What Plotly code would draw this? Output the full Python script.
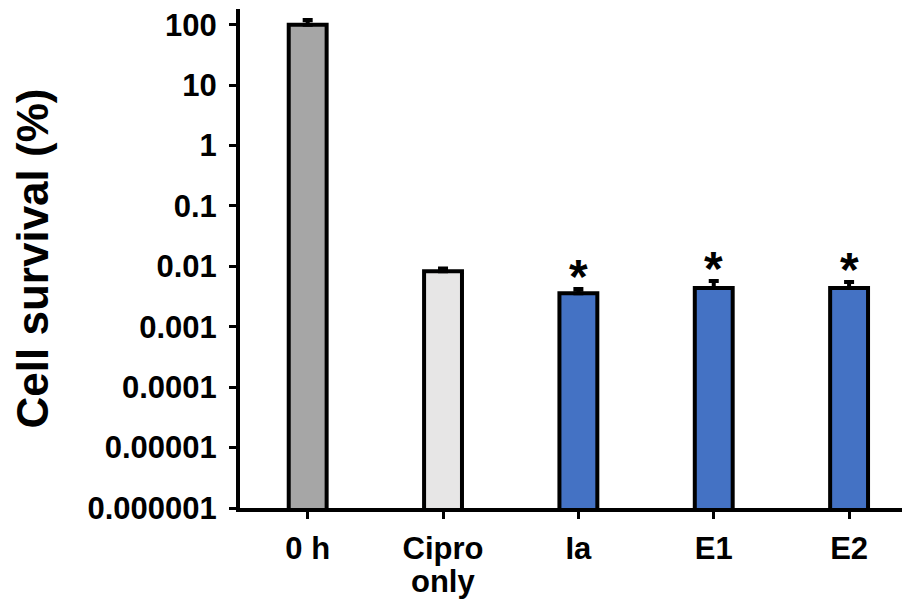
import plotly.graph_objects as go
import math

categories = ["0 h", "Cipro\nonly", "Ia", "E1", "E2"]
values = [100, 0.0083, 0.0036, 0.0044, 0.0044]
errors = [20, 0.0009, 0.0006, 0.0013, 0.0011]
colors = ["#A6A6A6", "#E7E6E6", "#4472C4", "#4472C4", "#4472C4"]
significant = [False, False, True, True, True]
tick_vals = [1e-6, 1e-5, 1e-4, 1e-3, 1e-2, 1e-1, 1, 10, 100]
tick_text = ["0.000001", "0.00001", "0.0001", "0.001", "0.01", "0.1", "1", "10", "100"]

FONT = "Liberation Sans, Arial, sans-serif"
TICK_SIZE = 31
xs = list(range(len(categories)))
first_lines = [c.split("\n")[0] for c in categories]

fig = go.Figure()
fig.add_trace(go.Bar(
    x=xs, y=values, width=0.28,
    marker=dict(color=colors, line=dict(color="black", width=4)),
    error_y=dict(type="data", array=errors, arrayminus=[0]*len(errors), symmetric=False,
                 color="black", thickness=4, width=5),
))

for i, (v, e, s) in enumerate(zip(values, errors, significant)):
    if s:
        fig.add_annotation(x=i, y=math.log10(v + e), text="*", showarrow=False,
                           yanchor="middle", yshift=13,
                           font=dict(family=FONT, size=48, color="black", weight=700))

# second lines of category labels (tighter line spacing than Plotly's default)
for i, c in enumerate(categories):
    for k, line in enumerate(c.split("\n")[1:], start=1):
        fig.add_annotation(x=i, xref="x", y=0, yref="paper", text=line, showarrow=False,
                           yanchor="top", yshift=-(23 + 31 * k),
                           font=dict(family=FONT, size=TICK_SIZE, color="black", weight=700))

fig.update_layout(
    width=902, height=593,
    margin=dict(l=232, r=0, t=1, b=93),
    plot_bgcolor="white", paper_bgcolor="white",
    showlegend=False,
    font=dict(family=FONT, color="black", weight=700),
)
fig.update_xaxes(
    range=[-0.5, 4.45], tickmode="array", tickvals=xs, ticktext=first_lines,
    tickson="boundaries", ticks="outside", ticklen=7, tickwidth=3, tickcolor="black",
    showline=True, linewidth=4, linecolor="black", showgrid=False, zeroline=False,
    tickfont=dict(family=FONT, size=TICK_SIZE, color="black", weight=700),
    ticklabelstandoff=3, automargin=False, ticklabeloverflow="allow",
)
fig.update_yaxes(
    type="log", range=[-6, 2.26], tickmode="array", tickvals=tick_vals, ticktext=tick_text,
    ticks="outside", ticklen=7, tickwidth=3, tickcolor="black",
    showline=True, linewidth=4, linecolor="black", showgrid=False, zeroline=False,
    tickfont=dict(family=FONT, size=TICK_SIZE, color="black", weight=700),
    ticklabelstandoff=6, automargin=False, ticklabeloverflow="allow",
    title=dict(text="Cell survival (%)", font=dict(family=FONT, size=44, color="black", weight=700), standoff=29),
)

fig.write_html("out.html")
